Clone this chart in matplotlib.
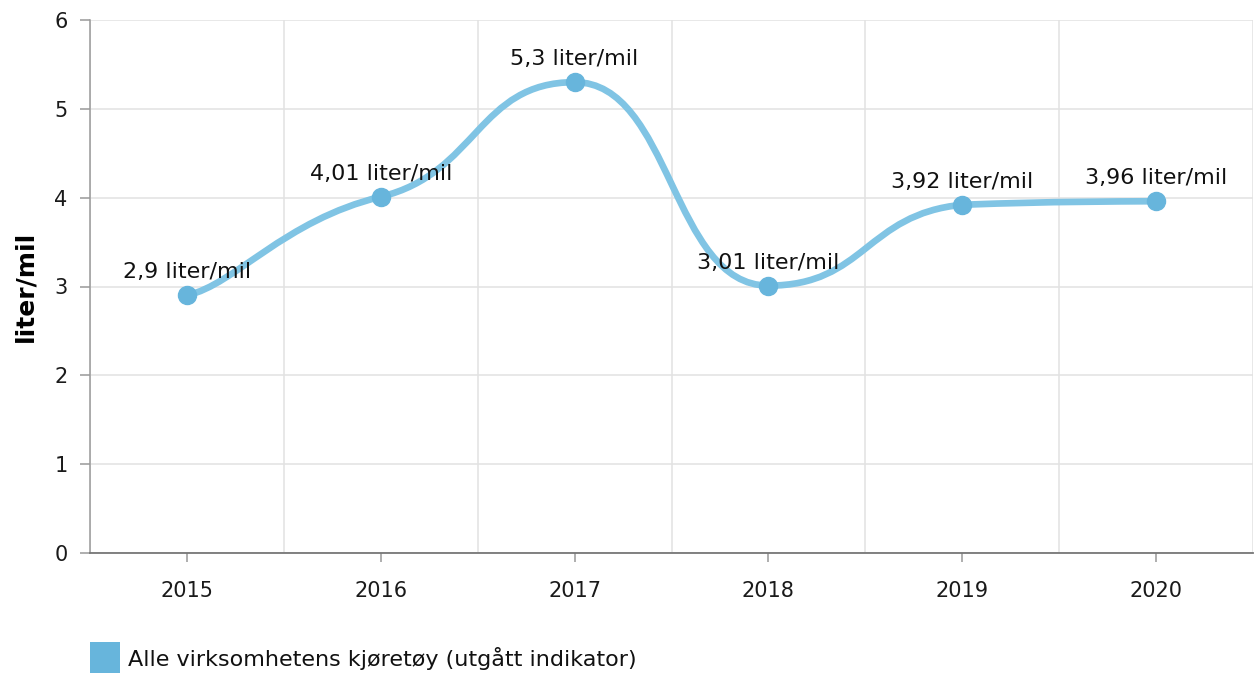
import matplotlib
matplotlib.use("Agg")
import matplotlib.pyplot as plt
from matplotlib.path import Path
from matplotlib.patches import PathPatch, Rectangle
import numpy as np

plt.rcParams['font.family'] = ['DejaVu Sans']

years = ["2015", "2016", "2017", "2018", "2019", "2020"]
values = [2.9, 4.01, 5.3, 3.01, 3.92, 3.96]
unit = "liter/mil"
y_ticks = [0, 1, 2, 3, 4, 5, 6]
series_name = "Alle virksomhetens kjøretøy (utgått indikator)"

LINE_COLOR = "#80c4e4"
MARKER_COLOR = "#67b5dc"


def smooth_path(xs, ys, tx=0.25, ratio=0.44):
    """Smoothed cubic curve through the points (tension handles, clamped at extremes)."""
    n = len(xs)
    left, right = [None] * n, [None] * n
    for i in range(n):
        if 0 < i < n - 1:
            span = xs[i + 1] - xs[i - 1]
            slope = (ys[i + 1] - ys[i - 1]) / span
            if (ys[i] - ys[i - 1]) * (ys[i + 1] - ys[i]) <= 0:
                slope = 0.0
        elif i == 0:
            span = xs[1] - xs[0]
            slope = (ys[1] - ys[0]) / span
        else:
            span = xs[-1] - xs[-2]
            slope = (ys[-1] - ys[-2]) / span
        slope *= ratio
        L = tx * span
        if i > 0:
            ly = ys[i] - slope * L
            lo, hi = sorted((ys[i], ys[i - 1]))
            left[i] = (xs[i] - L, min(max(ly, lo), hi))
        if i < n - 1:
            ry = ys[i] + slope * L
            lo, hi = sorted((ys[i], ys[i + 1]))
            right[i] = (xs[i] + L, min(max(ry, lo), hi))
    verts = [(xs[0], ys[0])]
    codes = [Path.MOVETO]
    for i in range(1, n):
        verts += [right[i - 1], left[i], (xs[i], ys[i])]
        codes += [Path.CURVE4] * 3
    return Path(verts, codes)


W, H = 1255, 675
fig = plt.figure(figsize=(W / 100, H / 100), dpi=100)
ax = fig.add_axes([90 / W, (H - 553) / H, (1253 - 90) / W, (553 - 20) / H])

x = np.arange(len(years))
ax.set_xlim(-0.5, len(years) - 0.5)
ax.set_ylim(0, 6)

ax.set_yticks(y_ticks)
ax.set_yticklabels([str(t) for t in y_ticks], fontsize=15, color="#1a1a1a")
ax.set_xticks(x)
ax.set_xticklabels(years, fontsize=15, color="#1a1a1a")
ax.set_xticks(np.arange(len(years) + 1) - 0.5, minor=True)
ax.grid(axis='y', which='major', color="#e2e2e2", linewidth=1.1)
ax.grid(axis='x', which='minor', color="#e2e2e2", linewidth=1.1)
ax.tick_params(axis='x', which='minor', length=0)
ax.tick_params(axis='x', which='major', length=6.5, width=1.1, color="#999999", pad=14)
ax.tick_params(axis='y', which='major', length=7.2, width=1.1, color="#999999", pad=9)
ax.set_axisbelow(True)

for side in ['top', 'right']:
    ax.spines[side].set_visible(False)
ax.spines['left'].set_color("#999999")
ax.spines['left'].set_linewidth(1.1)
ax.spines['bottom'].set_color("#777777")
ax.spines['bottom'].set_linewidth(1.3)

ax.set_ylabel(unit, fontsize=18, fontweight='bold')
ax.yaxis.set_label_coords(-53 / (1253 - 90), 0.5)

path = smooth_path(list(x.astype(float)), values)
ax.add_patch(PathPatch(path, facecolor='none', edgecolor=LINE_COLOR, linewidth=4.8,
                       capstyle='round', joinstyle='round', zorder=3))
ax.plot(x, values, linestyle='none', marker='o', markersize=13,
        markerfacecolor=MARKER_COLOR, markeredgecolor=MARKER_COLOR, zorder=4, clip_on=False)

for xi, v in zip(x, values):
    label = f"{v:g}".replace('.', ',') + " " + unit
    ax.annotate(label, (xi, v), xytext=(0, 12.3), textcoords='offset points',
                ha='center', va='baseline', fontsize=16, color="#111111", zorder=5)

fig.patches.append(Rectangle((90 / W, (H - 673) / H), 30 / W, 31 / H,
                             transform=fig.transFigure, facecolor=MARKER_COLOR,
                             edgecolor='none'))
fig.text(128 / W, (H - 658) / H, series_name, fontsize=16, va='center', ha='left',
         color="#111111")

fig.savefig("out.png", dpi=100)
